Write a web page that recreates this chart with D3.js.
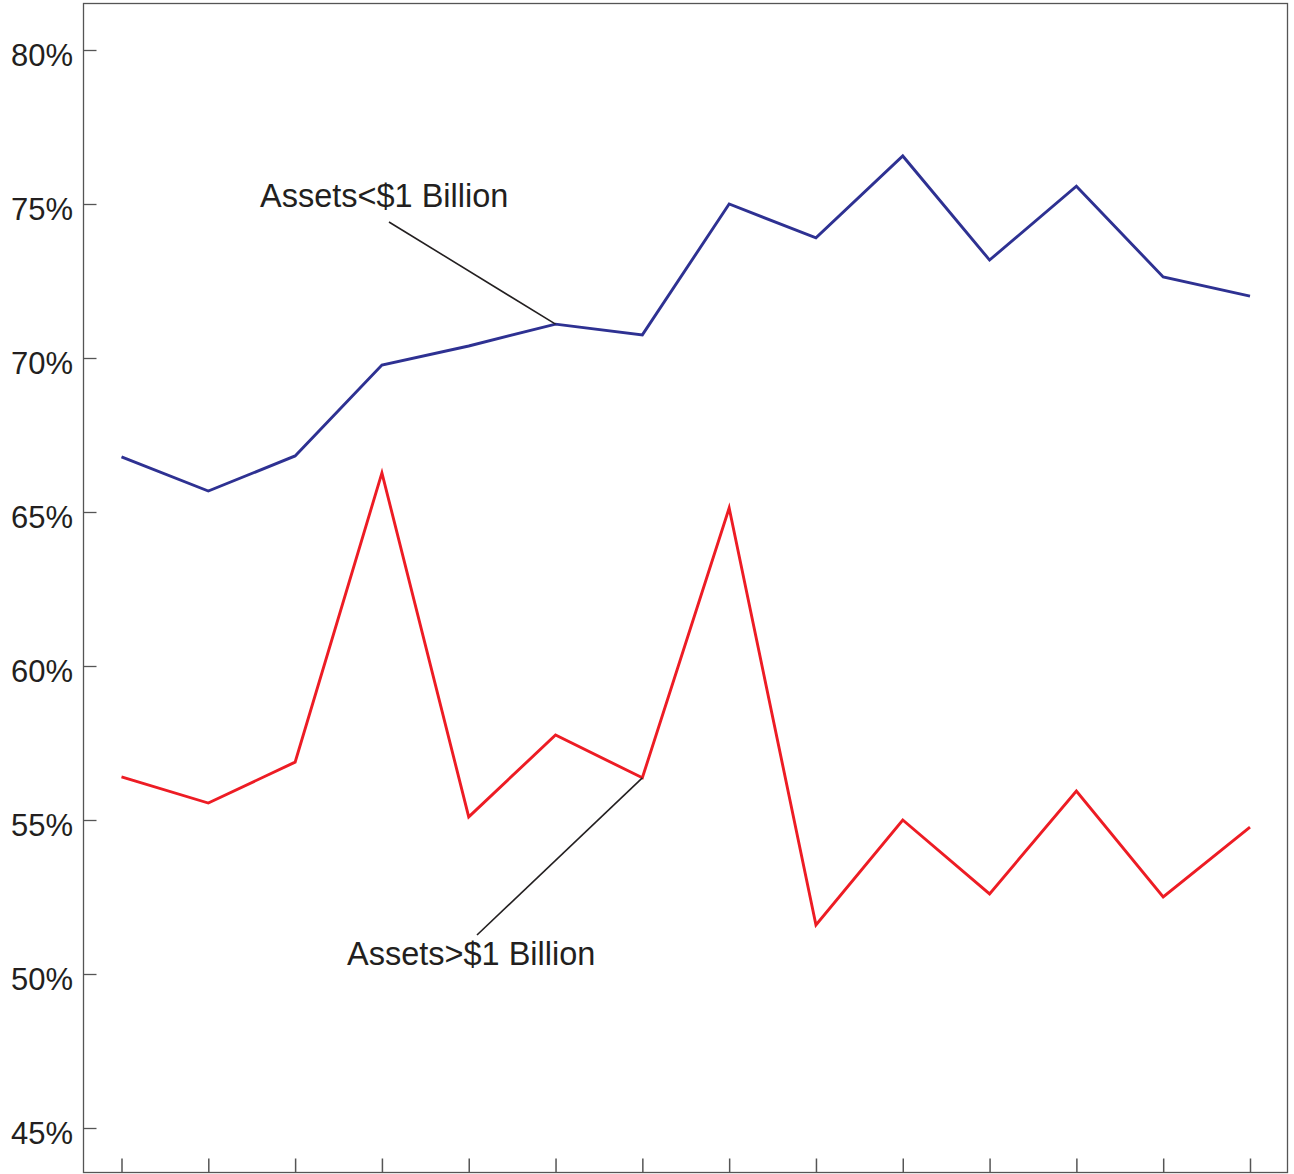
<!DOCTYPE html>
<html>
<head>
<meta charset="utf-8">
<script src="https://cdn.jsdelivr.net/npm/d3@7"></script>
<style>
  html, body { margin: 0; padding: 0; background: #fff; }
  svg { display: block; }
  text { font-family: "Liberation Sans", Arial, Helvetica, sans-serif; fill: #231f20; }
</style>
</head>
<body>
<svg id="chart" width="1294" height="1174"></svg>
<script>
// ---- Data ----
const periods = ["1", "2", "3", "4", "5", "6", "7", "8", "9", "10", "11", "12", "13", "14"];
const smallBanks = [66.79, 65.68, 66.82, 69.77, 70.39, 71.10, 70.75, 75.00, 73.90, 76.56, 73.18, 75.58, 72.63, 72.01];
const largeBanks = [56.40, 55.55, 56.88, 66.27, 55.10, 57.76, 56.37, 65.13, 51.59, 55.00, 52.60, 55.94, 52.50, 54.77];
const yTicks = [45, 50, 55, 60, 65, 70, 75, 80];
const seriesNames = ["Assets<$1 Billion", "Assets>$1 Billion"];

// ---- Layout ----
const svg = d3.select("#chart");
const frame = { left: 83.5, top: 3.5, right: 1287.5, bottom: 1172.5 };

const x = d3.scalePoint().domain(periods).range([121.5, 1250]);
const y = d3.scaleLinear().domain([45, 80]).range([1128, 50]);

// Frame
svg.append("rect")
  .attr("x", frame.left).attr("y", frame.top)
  .attr("width", frame.right - frame.left)
  .attr("height", frame.bottom - frame.top)
  .attr("fill", "none").attr("stroke", "#555").attr("stroke-width", 1.3);

// Y axis
const yAxis = svg.append("g")
  .attr("transform", `translate(${frame.left},0)`)
  .call(d3.axisLeft(y).tickValues(yTicks).tickFormat(d => d + "%")
    .tickSizeInner(-13).tickSizeOuter(0).tickPadding(10.5));
yAxis.select(".domain").remove();
yAxis.selectAll(".tick line").attr("stroke", "#555").attr("stroke-width", 1.3);
yAxis.selectAll(".tick text")
  .attr("dy", "0.5em")
  .style("font-family", '"Liberation Sans", Arial, sans-serif')
  .style("font-size", "31px")
  .attr("fill", "#231f20");

// X axis (ticks only, no labels)
const xAxis = svg.append("g")
  .attr("transform", `translate(0,${frame.bottom})`)
  .call(d3.axisBottom(x).tickFormat("").tickSizeInner(-14).tickSizeOuter(0));
xAxis.select(".domain").remove();
xAxis.selectAll(".tick line").attr("stroke", "#555").attr("stroke-width", 1.5);

// Lines
const line = d3.line().x((d, i) => x(periods[i])).y(d => y(d));

svg.append("path").datum(smallBanks)
  .attr("fill", "none").attr("stroke", "#2e3192").attr("stroke-width", 2.9)
  .attr("stroke-linejoin", "miter").attr("d", line);

svg.append("path").datum(largeBanks)
  .attr("fill", "none").attr("stroke", "#ed1c24").attr("stroke-width", 2.9)
  .attr("stroke-linejoin", "miter").attr("d", line);

// Annotations
const annotations = [
  { text: seriesNames[0], tx: 260, ty: 207, lx: 389, ly: 222, idx: 5, data: smallBanks },
  { text: seriesNames[1], tx: 347, ty: 965, lx: 477, ly: 935, idx: 6, data: largeBanks }
];
annotations.forEach(a => {
  svg.append("line")
    .attr("x1", a.lx).attr("y1", a.ly)
    .attr("x2", x(periods[a.idx])).attr("y2", y(a.data[a.idx]))
    .attr("stroke", "#231f20").attr("stroke-width", 1.6);
  svg.append("text")
    .attr("x", a.tx).attr("y", a.ty)
    .style("font-size", "32.5px")
    .text(a.text);
});
</script>
</body>
</html>
